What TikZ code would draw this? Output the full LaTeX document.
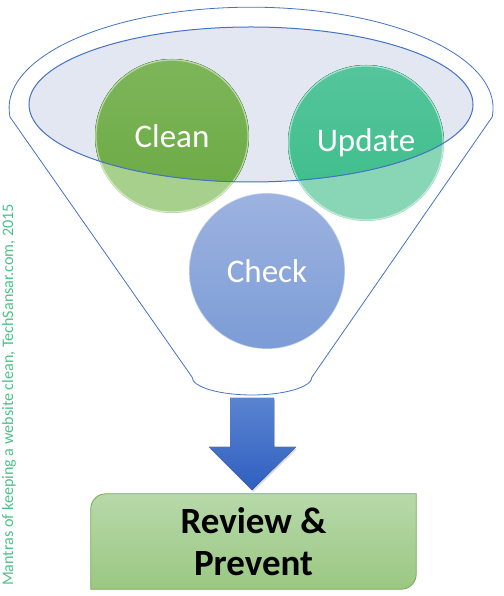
\documentclass[tikz,border=0pt]{standalone}
\usepackage{fontspec}
\setmainfont{Carlito}
\usetikzlibrary{shadows}

\pgfdeclarelayer{background}
\pgfsetlayers{background,main}

\definecolor{rimblue}{HTML}{4472C4}
\definecolor{bowlfill}{HTML}{E2E7F2}
\definecolor{cleantop}{HTML}{7DB65A}
\definecolor{cleanbot}{HTML}{6BA842}
\definecolor{cleanpale}{HTML}{A8D08D}
\definecolor{updatetop}{HTML}{55C59C}
\definecolor{updatebot}{HTML}{3BBD89}
\definecolor{updatepale}{HTML}{88D6B5}
\definecolor{checktop}{HTML}{9DB3E0}
\definecolor{checkbot}{HTML}{7C9CD6}
\definecolor{arrowtop}{HTML}{5B84D0}
\definecolor{arrowbot}{HTML}{2F5FC0}
\definecolor{boxtop}{HTML}{B7D9AA}
\definecolor{boxbot}{HTML}{9BC782}
\definecolor{boxline}{HTML}{70AD47}
\definecolor{credit}{HTML}{4CC28B}

\begin{document}
\begin{tikzpicture}[x=1pt, y=1pt]

\useasboundingbox (0,0) rectangle (503,596);

% Define styles
\tikzstyle{funnel} = [draw=rimblue, line width=0.8pt]
\tikzstyle{ball} = [circle, minimum size=156pt, inner sep=0pt, text=white, font=\fontsize{33}{36}\selectfont]
\tikzstyle{result} = [rectangle, minimum width=325pt, minimum height=95pt, align=center, text=black, font=\bfseries\fontsize{37}{42}\selectfont]
\tikzstyle{arrow} = [top color=arrowtop, bottom color=arrowbot, drop shadow={opacity=0.3, shadow xshift=1pt, shadow yshift=-2pt}]

% Funnel
\draw[funnel] (10,479) arc[start angle=185, end angle=-5, x radius=242pt, y radius=101pt]
  -- (312,219) arc[start angle=0, end angle=-180, x radius=60pt, y radius=18pt] -- cycle;
\fill[bowlfill] (251,491.5) ellipse[x radius=222pt, y radius=77.5pt];

% Balls, pale below the rim
\fill[cleanpale] (172,460) circle[radius=77pt];
\fill[updatepale] (366,453) circle[radius=78pt];
\begin{scope}
  \clip (251,491.5) ellipse[x radius=222pt, y radius=77.5pt];
  \fill[top color=cleantop, bottom color=cleanbot] (172,460) circle[radius=77pt];
  \fill[top color=updatetop, bottom color=updatebot] (366,453) circle[radius=78pt];
\end{scope}
\draw[white, opacity=0.5, line width=1.2pt] (172,460) circle[radius=76pt];
\draw[white, opacity=0.5, line width=1.2pt] (366,453) circle[radius=77pt];
\draw[rimblue, line width=1pt] (251,491.5) ellipse[x radius=222pt, y radius=77.5pt];

% Nodes
\node[ball] (clean) at (172,460) {Clean};
\node[ball] (update) at (366,453) {Update};
\node[ball, top color=checktop, bottom color=checkbot, draw=white, draw opacity=0.5, line width=1.2pt] (check) at (267,325) {Check};

\node[result] (review) at (253.5,54.5) {Review \&\\Prevent};
\begin{pgfonlayer}{background}
  \draw[boxline, line width=0.8pt, top color=boxtop, bottom color=boxbot]
    (review.south west) -- ([yshift=-15pt]review.north west)
    arc[start angle=180, end angle=90, radius=15pt] -- (review.north east)
    -- ([yshift=15pt]review.south east)
    arc[start angle=0, end angle=-90, radius=15pt] -- cycle;
\end{pgfonlayer}

% Arrow out of the spout
\coordinate (spout) at (252,198);
\coordinate (tip) at (252,106);
\fill[arrow] ([xshift=-22pt]spout) -- ([xshift=22pt]spout) -- (274,149) -- (296,149)
  -- (tip) -- (209,149) -- (230,149) -- cycle;

\node[rotate=90, text=credit, font=\fontsize{16.1}{19}\selectfont] (note) at (9,201)
  {Mantras of keeping a website clean, TechSansar.com, 2015};

\end{tikzpicture}
\end{document}
